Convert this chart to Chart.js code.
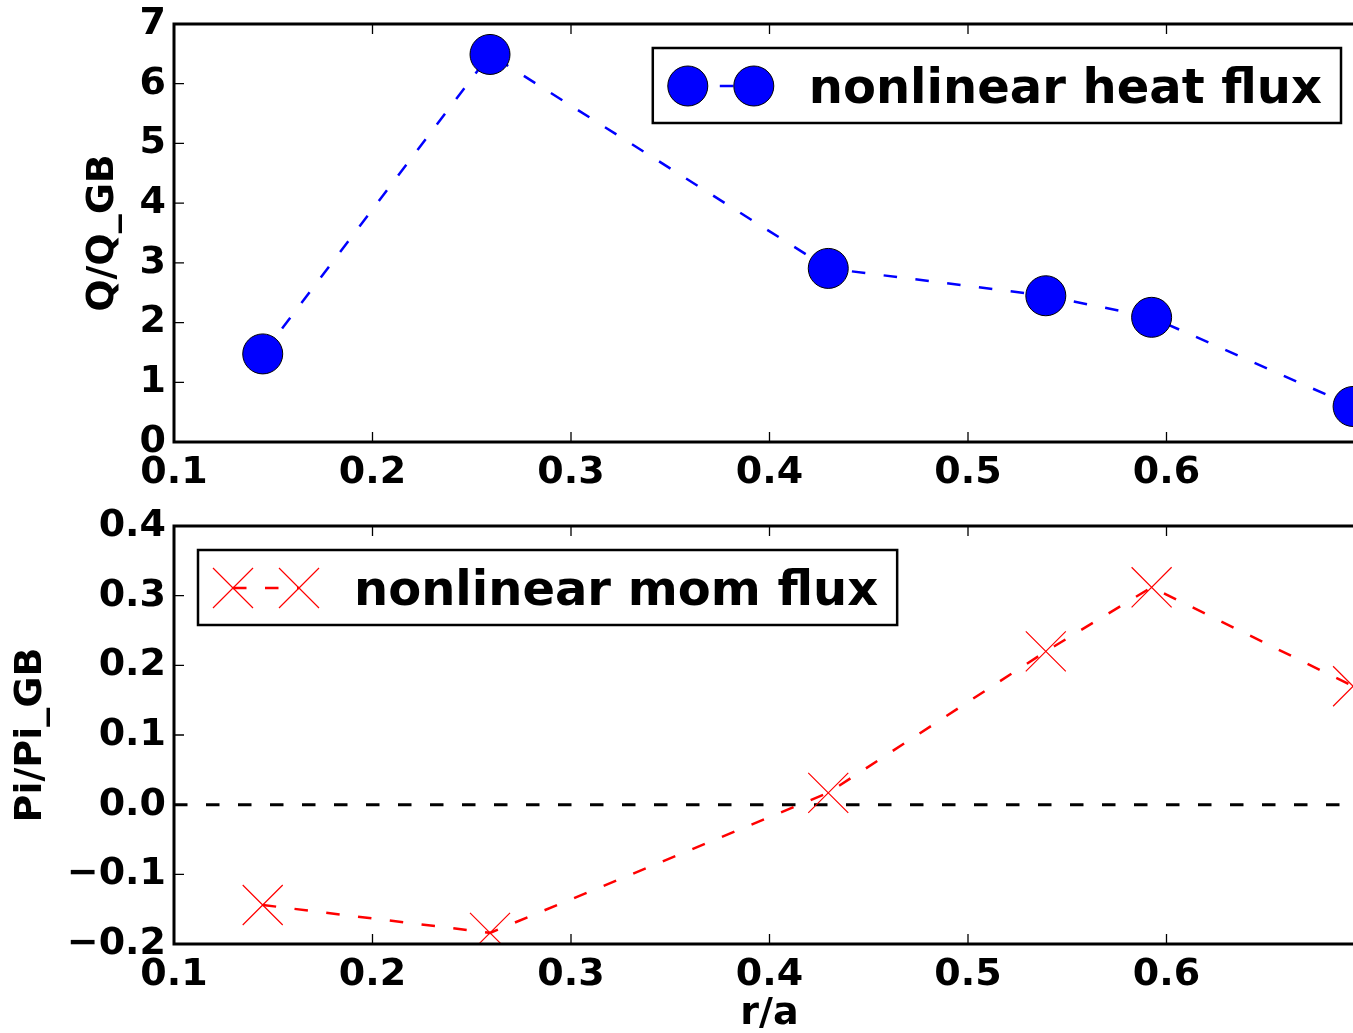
<!DOCTYPE html>
<html>
<head>
<meta charset="utf-8">
<script src="https://cdn.jsdelivr.net/npm/chart.js@4.4.1/dist/chart.umd.min.js"></script>
<style>
  html, body { margin: 0; padding: 0; background: #fff; overflow: hidden; }
  #wrap { position: relative; width: 1353px; height: 1033px; overflow: hidden; }
  #wrap canvas { position: absolute; left: 0; }
  #heatChart { top: 0; }
  #momChart { top: 490px; }
</style>
</head>
<body>
<div id="wrap">
  <canvas id="heatChart" width="1380" height="490"></canvas>
  <canvas id="momChart" width="1380" height="543"></canvas>
</div>
<script>
// values
const radius   = [0.1447, 0.2592, 0.4296, 0.5392, 0.5925, 0.694];
const heatFlux = [1.475, 6.49, 2.907, 2.449, 2.088, 0.595];
const momFlux  = [-0.144, -0.184, 0.017, 0.220, 0.312, 0.170];

const xRange    = [0.1, 0.7];
const xTicks    = [0.1, 0.2, 0.3, 0.4, 0.5, 0.6];
const heatRange = [0, 7];
const heatTicks = [0, 1, 2, 3, 4, 5, 6, 7];
const momRange  = [-0.2, 0.4];
const momTicks  = [-0.2, -0.1, 0.0, 0.1, 0.2, 0.3, 0.4];

const FONT = '"DejaVu Sans"';
const tickFont = { family: FONT, weight: 'bold', size: 38 };
const dash = [13.5, 18.5];

function fmtSigned(v) {
    return v < 0 ? '\u2212' + Math.abs(v).toFixed(1) : v.toFixed(1);
}

function noPad(s) {
    s.paddingLeft = 0; s.paddingRight = 0;
    s.paddingTop = 0; s.paddingBottom = 0;
}

// matplotlib-like frame with inward ticks on all sides
const framePlugin = {
    id: 'frame',
    afterDatasetsDraw(chart) {
        const { ctx, chartArea: a, scales: { x, y } } = chart;
        ctx.save();
        ctx.strokeStyle = '#000';
        ctx.lineWidth = 1.3;
        ctx.beginPath();
        x.ticks.forEach(t => {
            const px = x.getPixelForValue(t.value);
            ctx.moveTo(px, a.bottom); ctx.lineTo(px, a.bottom - 10);
            ctx.moveTo(px, a.top); ctx.lineTo(px, a.top + 10);
        });
        y.ticks.forEach(t => {
            const py = y.getPixelForValue(t.value);
            ctx.moveTo(a.left, py); ctx.lineTo(a.left + 10, py);
            ctx.moveTo(a.right, py); ctx.lineTo(a.right - 10, py);
        });
        ctx.stroke();
        ctx.lineWidth = 3;
        ctx.strokeRect(a.left, a.top, a.right - a.left, a.bottom - a.top);
        ctx.restore();
    }
};

// legend boxed inside the axes
const boxLegend = {
    id: 'boxLegend',
    afterDraw(chart, args, opts) {
        const { ctx, chartArea: a } = chart;
        const pad = 24;
        ctx.save();
        ctx.font = 'bold 48px ' + FONT;
        const tw = ctx.measureText(opts.text).width;
        const w = 156 + tw + 19, h = 75;
        const left = opts.align === 'right' ? a.right - pad - w : a.left + pad;
        const top = a.top + pad;

        ctx.fillStyle = '#fff';
        ctx.fillRect(left, top, w, h);
        ctx.lineWidth = 2.5;
        ctx.strokeStyle = '#000';
        ctx.strokeRect(left, top, w, h);

        const cy = top + 38, m1 = left + 35, m2 = left + 101;
        ctx.strokeStyle = opts.color;
        ctx.lineWidth = 2.5;
        ctx.setLineDash(dash);
        ctx.beginPath();
        ctx.moveTo(m1, cy); ctx.lineTo(m2, cy);
        ctx.stroke();
        ctx.setLineDash([]);

        [m1, m2].forEach(mx => {
            ctx.fillStyle = opts.fill;
            ctx.strokeStyle = opts.stroke;
            ctx.lineWidth = opts.point.borderWidth;
            Chart.helpers.drawPoint(ctx, opts.point, mx, cy);
        });

        ctx.fillStyle = '#000';
        ctx.textBaseline = 'alphabetic';
        ctx.textAlign = 'left';
        ctx.fillText(opts.text, left + 156, top + 55);
        ctx.restore();
    }
};

function xScale(height, withTitle) {
    return {
        type: 'linear', min: xRange[0], max: xRange[1],
        grid: { display: false, drawTicks: false },
        border: { display: false },
        afterBuildTicks: s => { s.ticks = xTicks.map(v => ({ value: v })); },
        afterFit: s => { s.height = height; noPad(s); },
        ticks: { color: '#000', font: tickFont, padding: 8, autoSkip: false, maxRotation: 0,
                 callback: v => v.toFixed(1) },
        title: { display: withTitle, text: 'r/a', color: '#000',
                 font: { family: FONT, weight: 'bold', size: 38, lineHeight: 1 },
                 padding: { top: 0, bottom: 0 } }
    };
}

function yScale(range, ticks, fmt, label, titlePad) {
    return {
        min: range[0], max: range[1],
        grid: { display: false, drawTicks: false },
        border: { display: false },
        afterBuildTicks: s => { s.ticks = ticks.map(v => ({ value: v })); },
        afterFit: s => { s.width = 174; noPad(s); },
        ticks: { color: '#000', font: tickFont, padding: 8, autoSkip: false, callback: fmt },
        title: { display: true, text: label, color: '#000',
                 font: { family: FONT, weight: 'bold', size: 38, lineHeight: 1 },
                 padding: { top: titlePad, bottom: 0 } }
    };
}

new Chart(document.getElementById('heatChart'), {
    type: 'line',
    data: {
        datasets: [{
            label: 'nonlinear heat flux',
            data: radius.map((r, i) => ({ x: r, y: heatFlux[i] })),
            borderColor: '#0000ff',
            borderWidth: 2.5,
            borderDash: dash,
            fill: false,
            tension: 0,
            pointStyle: 'circle',
            pointRadius: 20,
            pointBackgroundColor: '#0000ff',
            pointBorderColor: '#000',
            pointBorderWidth: 1,
            clip: 0
        }]
    },
    options: {
        responsive: false,
        animation: false,
        devicePixelRatio: 1,
        layout: { autoPadding: false, padding: { top: 24, right: 15, left: 0, bottom: 0 } },
        plugins: {
            legend: { display: false },
            tooltip: { enabled: false },
            boxLegend: {
                text: 'nonlinear heat flux', align: 'right', color: '#0000ff',
                fill: '#0000ff', stroke: '#000',
                point: { pointStyle: 'circle', radius: 20, borderWidth: 1, rotation: 0 }
            }
        },
        scales: {
            x: xScale(48, false),
            y: yScale(heatRange, heatTicks, v => String(v), 'Q/Q_GB', 84)
        }
    },
    plugins: [framePlugin, boxLegend]
});

new Chart(document.getElementById('momChart'), {
    type: 'line',
    data: {
        datasets: [{
            label: 'nonlinear mom flux',
            data: radius.map((r, i) => ({ x: r, y: momFlux[i] })),
            borderColor: '#ff0000',
            borderWidth: 2.5,
            borderDash: dash,
            fill: false,
            tension: 0,
            pointStyle: 'crossRot',
            pointRadius: 28.3,
            pointBorderColor: '#ff0000',
            pointBorderWidth: 1.2,
            clip: 0
        }, {
            label: 'zero',
            data: xRange.map(x => ({ x: x, y: 0 })),
            borderColor: '#000',
            borderWidth: 3,
            borderDash: dash,
            pointRadius: 0,
            fill: false,
            clip: 0
        }]
    },
    options: {
        responsive: false,
        animation: false,
        devicePixelRatio: 1,
        layout: { autoPadding: false, padding: { top: 36, right: 15, left: 0, bottom: 0 } },
        plugins: {
            legend: { display: false },
            tooltip: { enabled: false },
            boxLegend: {
                text: 'nonlinear mom flux', align: 'left', color: '#ff0000',
                fill: '#ff0000', stroke: '#ff0000',
                point: { pointStyle: 'crossRot', radius: 28.3, borderWidth: 1.2, rotation: 0 }
            }
        },
        scales: {
            x: xScale(89, true),
            y: yScale(momRange, momTicks, fmtSigned, 'Pi/Pi_GB', 12)
        }
    },
    plugins: [framePlugin, boxLegend]
});
</script>
</body>
</html>
